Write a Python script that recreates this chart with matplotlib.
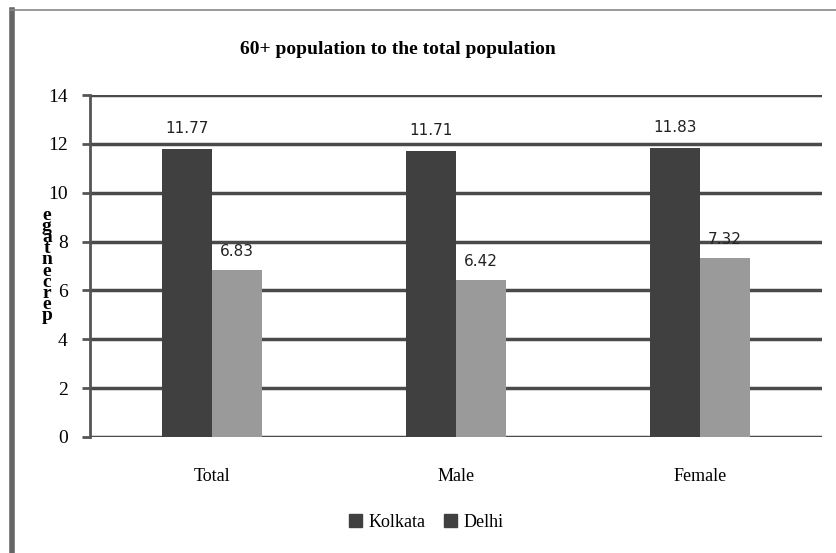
import numpy as np
import matplotlib.pyplot as plt
from matplotlib.lines import Line2D
from matplotlib.patches import Patch

categories = ["Total", "Male", "Female"]
kolkata = [11.77, 11.71, 11.83]
delhi = [6.83, 6.42, 7.32]
yticks = [0, 2, 4, 6, 8, 10, 12, 14]

fig = plt.figure(figsize=(8.36, 5.53), dpi=100)
ax = fig.add_axes([0.1077, 0.2098, 0.8756, 0.6184])

x = np.arange(len(categories))
w = 0.205
ax.bar(x - w / 2, kolkata, w, color='#404040', zorder=3)
ax.bar(x + w / 2, delhi, w, color='#9a9a9a', zorder=3)

for i in range(len(categories)):
    ax.text(x[i] - w / 2, kolkata[i] + 0.55, f"{kolkata[i]:.2f}", ha='center', va='bottom',
            fontsize=11, color='#222222', family='DejaVu Sans')
    ax.text(x[i] + w / 2, delhi[i] + 0.45, f"{delhi[i]:.2f}", ha='center', va='bottom',
            fontsize=11, color='#222222', family='DejaVu Sans')

ax.set_xlim(-0.5, 2.5)
ax.set_ylim(0, 14)
ax.set_yticks(yticks)
ax.set_yticklabels([str(t) for t in yticks], family='Liberation Serif', fontsize=14)
ax.set_xticks(x)
ax.set_xticklabels(categories, family='Liberation Serif', fontsize=13)
ax.tick_params(axis='x', length=0, pad=22)
ax.tick_params(axis='y', length=6, width=2, color='#555555', pad=10)
ax.yaxis.grid(True, color='#4a4a4a', linewidth=2.5, zorder=0)
for s in ['top', 'right', 'bottom']:
    ax.spines[s].set_visible(False)
ax.spines['left'].set_color('#555555')
ax.spines['left'].set_linewidth(2)

ax.set_title("60+ population to the total population", family='Liberation Serif',
             fontweight='bold', fontsize=14, pad=29.5, x=0.42)

fig.text(0.056, 0.52, "e\ng\na\nt\nn\ne\nc\nr\ne\np", family='Liberation Serif',
         fontweight='bold', fontsize=14, ha='center', va='center', linespacing=0.55)

handles = [Patch(color='#404040'), Patch(color='#404040')]
fig.legend(handles, ["Kolkata", "Delhi"], loc='center', bbox_to_anchor=(0.51, 0.055),
           ncol=2, frameon=False, prop={'family': 'Liberation Serif', 'size': 13},
           handlelength=0.7, handleheight=0.7, handletextpad=0.4, columnspacing=1.0)

fig.add_artist(Line2D([0.014, 0.014], [0, 0.982], color='#666666', linewidth=4))
fig.add_artist(Line2D([0.012, 1.0], [0.982, 0.982], color='#888888', linewidth=1.2))

fig.savefig("out.png", dpi=100)
